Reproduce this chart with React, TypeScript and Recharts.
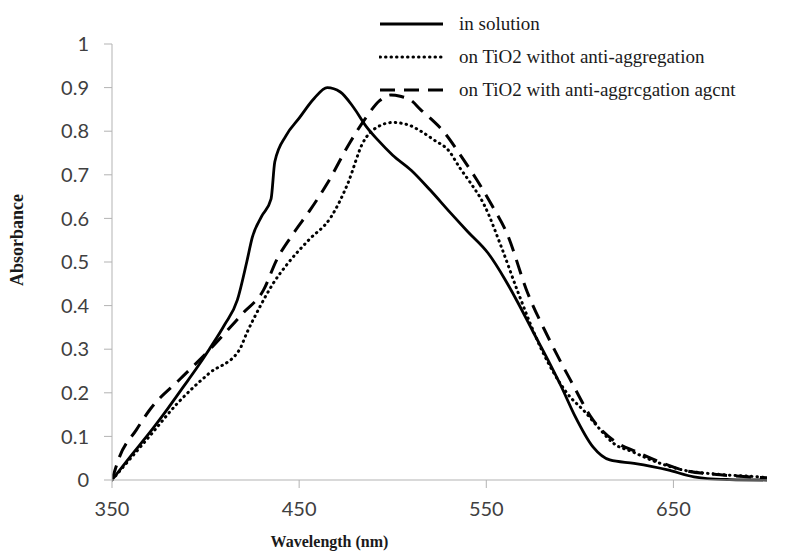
import { LineChart, Line, XAxis, YAxis } from 'recharts'

// wavelengths (nm) and absorbance
const solutionNm = [350, 360, 370, 380, 388, 395, 402, 410, 417, 422, 425, 430, 435, 437, 443, 450, 458, 465, 472, 479, 486, 492, 500, 510, 520, 531, 540, 551, 560, 567, 575, 583, 590, 597, 607, 616, 629, 647, 661, 668, 680, 700]
const solutionAbs = [0, 0.055, 0.108, 0.165, 0.213, 0.255, 0.3, 0.355, 0.413, 0.5, 0.557, 0.605, 0.645, 0.73, 0.79, 0.83, 0.875, 0.9, 0.89, 0.855, 0.81, 0.78, 0.745, 0.71, 0.665, 0.612, 0.57, 0.52, 0.46, 0.406, 0.34, 0.275, 0.215, 0.15, 0.076, 0.046, 0.038, 0.023, 0.007, 0.003, 0.001, 0]

const noAgentNm = [350, 360, 370, 385, 402, 418, 422, 429, 436, 444, 455, 467, 476, 484, 492, 500, 508, 515, 522, 530, 536, 541, 549, 558, 567, 580, 593, 603, 611, 618, 628, 638, 655, 674, 698, 700]
const noAgentAbs = [0, 0.05, 0.1, 0.176, 0.245, 0.298, 0.337, 0.397, 0.45, 0.497, 0.55, 0.603, 0.68, 0.773, 0.81, 0.82, 0.815, 0.8, 0.78, 0.755, 0.715, 0.685, 0.63, 0.535, 0.43, 0.295, 0.2, 0.155, 0.115, 0.084, 0.065, 0.046, 0.023, 0.013, 0.006, 0.005]

const agentNm = [350, 354, 363, 370, 386, 402, 420, 431, 438, 447, 456, 465, 477, 486, 493, 499, 504, 510, 515, 520, 527, 537, 545, 553, 561, 572, 583, 595, 607, 620, 630, 640, 655, 675, 700]
const agentAbs = [0, 0.053, 0.115, 0.16, 0.23, 0.298, 0.383, 0.436, 0.505, 0.566, 0.62, 0.68, 0.773, 0.833, 0.87, 0.883, 0.88, 0.87, 0.849, 0.83, 0.8, 0.74, 0.688, 0.63, 0.566, 0.43, 0.328, 0.229, 0.138, 0.085, 0.065, 0.046, 0.023, 0.012, 0.005]

const seriesNames = ['in solution', 'on TiO2 withot anti-aggregation', 'on TiO2 with anti-aggrcgation agcnt']
const xTicks = [350, 450, 550, 650]
const yTicks = [0, 0.1, 0.2, 0.3, 0.4, 0.5, 0.6, 0.7, 0.8, 0.9, 1]

const toPoints = (nm: number[], abs: number[]) => nm.map((x, i) => ({ x, y: abs[i] }))

const STYLES = [
  { width: 2.8, dash: undefined, cap: 'butt' },
  { width: 3, dash: '0.5 5', cap: 'round' },
  { width: 3, dash: '15 9', cap: 'butt' },
] as const

const axisGrey = '#b3b3b3'
const tickFont = { fontSize: 20, fill: '#404040', fontFamily: 'Lato' }

// legend drawn as a plain overlay so it doesn't eat into the plot area
function LegendBox() {
  return (
    <div
      style={{
        position: 'absolute',
        left: 379,
        top: 7,
        fontFamily: '"Liberation Serif"',
        fontSize: 19,
        color: '#1a1a1a',
      }}
    >
      {seriesNames.map((name, i) => (
        <div key={name} style={{ display: 'flex', alignItems: 'center', height: 33 }}>
          <svg width={66} height={10} style={{ marginRight: 14 }}>
            <line
              x1={1}
              x2={64}
              y1={5}
              y2={5}
              stroke="#000"
              strokeWidth={STYLES[i].width}
              strokeDasharray={STYLES[i].dash}
              strokeLinecap={STYLES[i].cap}
            />
          </svg>
          <span style={{ whiteSpace: 'nowrap' }}>{name}</span>
        </div>
      ))}
    </div>
  )
}

export default function App() {
  const series = [
    toPoints(solutionNm, solutionAbs),
    toPoints(noAgentNm, noAgentAbs),
    toPoints(agentNm, agentAbs),
  ]
  return (
    <div style={{ position: 'absolute', left: 0, top: 0, width: 795, height: 552, background: '#fff' }}>
      <LineChart width={795} height={552} margin={{ top: 44, right: 28, left: 0, bottom: 0 }}>
        <XAxis
          type="number"
          dataKey="x"
          domain={[350, 700]}
          ticks={xTicks}
          allowDataOverflow
          stroke={axisGrey}
          tickSize={8}
          tickMargin={14}
          height={72}
          tick={tickFont}
          label={{
            value: 'Wavelength (nm)',
            position: 'insideBottom',
            dx: -110,
            offset: 5,
            style: { fontFamily: '"Liberation Serif"', fontWeight: 'bold', fontSize: 16, fill: '#1a1a1a' },
          }}
        />
        <YAxis
          type="number"
          dataKey="y"
          domain={[0, 1]}
          ticks={yTicks}
          width={112}
          stroke={axisGrey}
          tickSize={8}
          tickMargin={15}
          tick={tickFont}
          label={{
            value: 'Absorbance',
            angle: -90,
            position: 'insideLeft',
            offset: 17,
            dy: -22,
            style: { fontFamily: '"Liberation Serif"', fontWeight: 'bold', fontSize: 18, fill: '#1a1a1a', textAnchor: 'middle' },
          }}
        />
        {series.map((pts, i) => (
          <Line
            key={seriesNames[i]}
            data={pts}
            dataKey="y"
            name={seriesNames[i]}
            type="monotone"
            stroke="#000"
            strokeWidth={STYLES[i].width}
            strokeDasharray={STYLES[i].dash}
            strokeLinecap={STYLES[i].cap}
            dot={false}
            activeDot={false}
            isAnimationActive={false}
          />
        ))}
      </LineChart>
      <LegendBox />
    </div>
  )
}
